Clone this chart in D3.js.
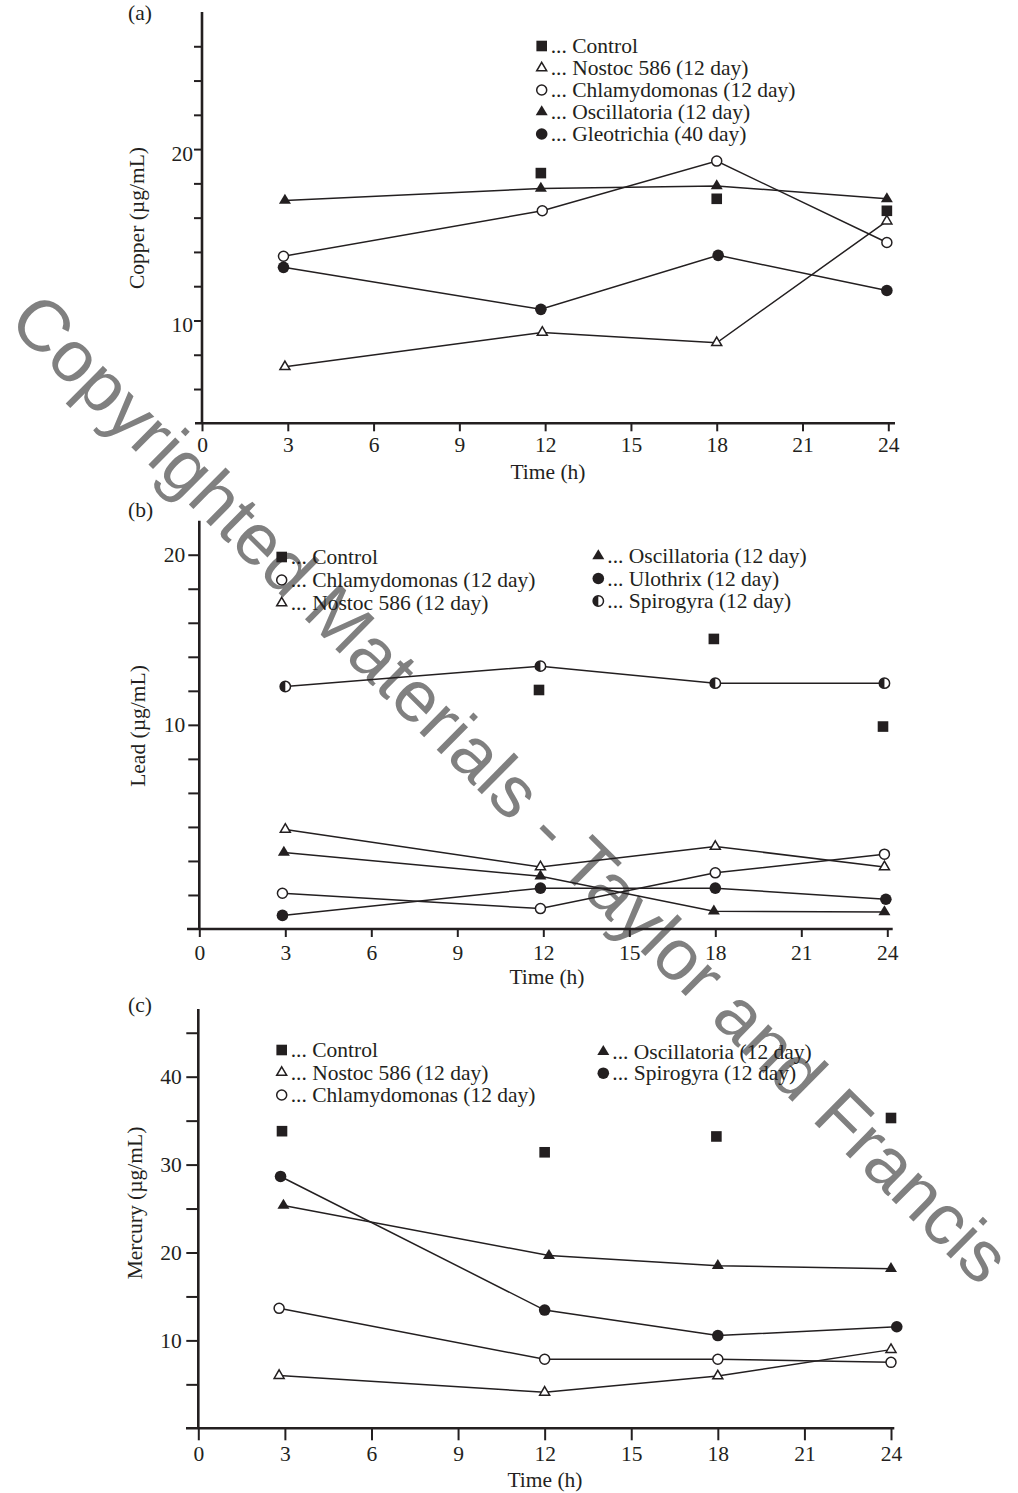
<!DOCTYPE html>
<html>
<head>
<meta charset="utf-8">
<script src="https://cdn.jsdelivr.net/npm/d3@7"></script>
<style>
  body { margin: 0; background: #fff; }
  svg { display: block; }
  text { font-family: "Liberation Serif", "Times New Roman", serif; fill: #231f20; }
</style>
</head>
<body>
<svg id="fig" width="1018" height="1493"></svg>
<script>
// Heavy-metal removal by algae: copper, lead and mercury left in solution over 24 h.
// Values, [time (h), µg/mL].

const hourTicks = [0, 3, 6, 9, 12, 15, 18, 21, 24];

// (a) Copper
const cuControl = [[11.85, 18.6], [18.0, 17.1], [23.95, 16.4]];
const cuNostoc  = [[2.9, 7.3], [11.9, 9.3], [18.0, 8.7], [23.95, 15.8]];
const cuChlamy  = [[2.85, 13.75], [11.9, 16.4], [18.0, 19.3], [23.95, 14.55]];
const cuOscill  = [[2.9, 17.0], [11.85, 17.7], [18.0, 17.85], [23.95, 17.1]];
const cuGleo    = [[2.85, 13.1], [11.85, 10.65], [18.05, 13.8], [23.95, 11.75]];
const cuTicks = [6, 8, 10, 12, 14, 16, 18, 20, 22, 24, 26];
const cuLabels = [10, 20];

// (b) Lead
const pbControl = [[11.85, 12.05], [17.95, 15.05], [23.85, 9.9]];
const pbSpiro   = [[3.0, 12.25], [11.9, 13.45], [18.0, 12.45], [23.9, 12.45]];
const pbNostoc  = [[3.0, 3.85], [11.9, 1.65], [18.0, 2.85], [23.9, 1.65]];
const pbOscill  = [[2.95, 2.5], [11.9, 1.1], [17.95, -0.95], [23.9, -1.0]];
const pbChlamy  = [[2.9, 0.1], [11.9, -0.8], [18.0, 1.3], [23.9, 2.4]];
const pbUlo     = [[2.9, -1.2], [11.9, 0.4], [18.0, 0.4], [23.95, -0.25]];
const pbTicks = [0, 2, 4, 6, 8, 10, 12, 14, 16, 18, 20];
const pbLabels = [10, 20];

// (c) Mercury
const hgControl = [[2.9, 33.8], [12.0, 31.4], [17.95, 33.2], [24.0, 35.3]];
const hgSpiro   = [[2.85, 28.65], [12.0, 13.45], [18.0, 10.55], [24.2, 11.55]];
const hgOscill  = [[2.95, 25.35], [12.15, 19.65], [18.0, 18.5], [24.0, 18.15]];
const hgChlamy  = [[2.8, 13.65], [12.0, 7.85], [18.0, 7.85], [24.0, 7.5]];
const hgNostoc  = [[2.8, 6.0], [12.0, 4.1], [18.0, 5.95], [24.0, 8.95]];
const hgTicks = [5, 10, 15, 20, 25, 30, 35, 40, 45];
const hgLabels = [10, 20, 30, 40];

const ink = "#231f20";
const fs = "21.5px";
const svg = d3.select("#fig");
svg.append("rect").attr("width", 1018).attr("height", 1493).attr("fill", "#fff");

// watermark sits under the chart
svg.append("text")
  .attr("transform", "translate(511,788) rotate(44.7)")
  .attr("text-anchor", "middle").attr("dominant-baseline", "central")
  .style("font-family", '"Liberation Sans", Arial, sans-serif')
  .style("font-size", "72px").style("fill", "#808080")
  .attr("textLength", 1370).attr("lengthAdjust", "spacingAndGlyphs")
  .text("Copyrighted Materials - Taylor and Francis");

function tri(w, h) {
  return `M0,${-h * 2 / 3}L${w / 2},${h / 3}L${-w / 2},${h / 3}Z`;
}

// one marker glyph at (cx, cy)
function mark(g, kind, cx, cy) {
  const m = g.append("g").attr("transform", `translate(${cx},${cy})`);
  if (kind === "square") {
    m.append("rect").attr("x", -5.3).attr("y", -5.3).attr("width", 10.6).attr("height", 10.6).attr("fill", ink);
  } else if (kind === "triFilled") {
    m.append("path").attr("d", tri(12, 10)).attr("fill", ink);
  } else if (kind === "triOpen") {
    m.append("path").attr("d", tri(10, 8.6)).attr("fill", "#fff").attr("stroke", ink).attr("stroke-width", 1.5);
  } else if (kind === "circFilled") {
    m.append("circle").attr("r", 5.8).attr("fill", ink);
  } else if (kind === "circOpen") {
    m.append("circle").attr("r", 5).attr("fill", "#fff").attr("stroke", ink).attr("stroke-width", 1.5);
  } else if (kind === "circHalf") {
    m.append("circle").attr("r", 5.2).attr("fill", "#fff").attr("stroke", ink).attr("stroke-width", 1.5);
    m.append("path").attr("d", "M0,-5.2A5.2,5.2 0 0 0 0,5.2Z").attr("fill", ink);
  }
}

function panel(p) {
  const g = svg.append("g");
  const x = d3.scaleLinear().domain([0, 24]).range([p.x0, p.x1]);
  const y = d3.scaleLinear().domain(p.yDomain).range([p.yBottom, p.yTop]);

  // x axis
  const gx = g.append("g").attr("transform", `translate(0,${p.yBottom})`)
    .call(d3.axisBottom(x).tickValues(hourTicks).tickSize(p.xTick).tickSizeOuter(0));
  gx.select(".domain").remove();
  gx.selectAll(".tick line").attr("stroke", ink).attr("stroke-width", 2);
  gx.selectAll(".tick text").attr("y", p.xLabelY).attr("dy", null)
    .style("font-size", fs).attr("fill", ink);
  g.append("line").attr("x1", p.xAxisFrom).attr("x2", p.xAxisTo)
    .attr("y1", p.yBottom).attr("y2", p.yBottom).attr("stroke", ink).attr("stroke-width", 2.6);

  // y axis
  const gy = g.append("g").attr("transform", `translate(${p.x0},0)`)
    .call(d3.axisLeft(y).tickValues(p.yTicks).tickSize(p.yTick).tickSizeOuter(0)
      .tickFormat((d) => (p.yLabels.includes(d) ? d : "")));
  gy.select(".domain").remove();
  gy.selectAll(".tick line").attr("stroke", ink).attr("stroke-width", 2);
  gy.selectAll(".tick text").attr("x", p.yLabelX).attr("dy", p.yLabelDy)
    .style("font-size", fs).attr("fill", ink);
  g.append("line").attr("x1", p.x0).attr("x2", p.x0)
    .attr("y1", p.yTop).attr("y2", p.yBottom).attr("stroke", ink).attr("stroke-width", 2.6);

  // titles
  g.append("text").attr("x", 128).attr("y", p.tagY).style("font-size", fs).text(p.tag);
  g.append("text").attr("x", p.timeX).attr("y", p.timeY).attr("text-anchor", "middle")
    .style("font-size", fs).text("Time (h)");
  g.append("text").attr("transform", `translate(${p.titleX},${p.titleY}) rotate(-90)`)
    .attr("text-anchor", "middle").style("font-size", fs).text(p.title);

  // lines then markers
  const line = d3.line().x((d) => x(d[0])).y((d) => y(d[1]));
  p.series.filter((s) => s.line).forEach((s) => {
    g.append("path").datum(s.pts).attr("d", line)
      .attr("fill", "none").attr("stroke", ink).attr("stroke-width", 1.5);
  });
  p.series.forEach((s) => s.pts.forEach((d) => mark(g, s.mark, x(d[0]), y(d[1]))));

  // legend columns
  p.legend.forEach((col) => {
    col.items.forEach((s, i) => {
      const ly = col.y0 + i * col.step;
      mark(g, s.mark, col.x, ly);
      g.append("text").attr("x", col.x + 9).attr("y", ly + 7)
        .style("font-size", fs).text("... " + s.name);
    });
  });
}

// --- (a) ---
const A = {
  control: { name: "Control", mark: "square", line: false, pts: cuControl },
  nostoc: { name: "Nostoc 586 (12 day)", mark: "triOpen", line: true, pts: cuNostoc },
  chlamy: { name: "Chlamydomonas (12 day)", mark: "circOpen", line: true, pts: cuChlamy },
  oscill: { name: "Oscillatoria (12 day)", mark: "triFilled", line: true, pts: cuOscill },
  gleo: { name: "Gleotrichia (40 day)", mark: "circFilled", line: true, pts: cuGleo },
};
panel({
  tag: "(a)", tagY: 20, title: "Copper (\u00b5g/mL)", titleX: 144, titleY: 218,
  x0: 202, x1: 888.3, yTop: 12, yBottom: 423.3, yDomain: [4, 28],
  xAxisFrom: 195, xAxisTo: 895, xTick: 8, xLabelY: 29, timeX: 548, timeY: 479,
  yTicks: cuTicks, yLabels: cuLabels, yTick: 8, yLabelX: -9, yLabelDy: 11,
  series: [A.nostoc, A.chlamy, A.oscill, A.gleo, A.control],
  legend: [{ x: 541.7, y0: 46, step: 22, items: [A.control, A.nostoc, A.chlamy, A.oscill, A.gleo] }],
});

// --- (b) ---
const B = {
  control: { name: "Control", mark: "square", line: false, pts: pbControl },
  spiro: { name: "Spirogyra (12 day)", mark: "circHalf", line: true, pts: pbSpiro },
  nostoc: { name: "Nostoc 586 (12 day)", mark: "triOpen", line: true, pts: pbNostoc },
  oscill: { name: "Oscillatoria (12 day)", mark: "triFilled", line: true, pts: pbOscill },
  chlamy: { name: "Chlamydomonas (12 day)", mark: "circOpen", line: true, pts: pbChlamy },
  ulo: { name: "Ulothrix (12 day)", mark: "circFilled", line: true, pts: pbUlo },
};
panel({
  tag: "(b)", tagY: 517, title: "Lead (\u00b5g/mL)", titleX: 145, titleY: 726,
  x0: 199.3, x1: 887.3, yTop: 520.7, yBottom: 929, yDomain: [-2, 22],
  xAxisFrom: 187, xAxisTo: 892.7, xTick: 8, xLabelY: 31, timeX: 547, timeY: 984,
  yTicks: pbTicks, yLabels: pbLabels, yTick: 11, yLabelX: -14, yLabelDy: 7,
  series: [B.spiro, B.nostoc, B.oscill, B.chlamy, B.ulo, B.control],
  legend: [
    { x: 281.7, y0: 557, step: 23, items: [B.control, B.chlamy, B.nostoc] },
    { x: 598.3, y0: 556, step: 22.5, items: [B.oscill, B.ulo, B.spiro] },
  ],
});

// --- (c) ---
const C = {
  control: { name: "Control", mark: "square", line: false, pts: hgControl },
  spiro: { name: "Spirogyra (12 day)", mark: "circFilled", line: true, pts: hgSpiro },
  oscill: { name: "Oscillatoria (12 day)", mark: "triFilled", line: true, pts: hgOscill },
  chlamy: { name: "Chlamydomonas (12 day)", mark: "circOpen", line: true, pts: hgChlamy },
  nostoc: { name: "Nostoc 586 (12 day)", mark: "triOpen", line: true, pts: hgNostoc },
};
panel({
  tag: "(c)", tagY: 1012, title: "Mercury (\u00b5g/mL)", titleX: 142, titleY: 1203,
  x0: 198.3, x1: 891, yTop: 1009, yBottom: 1428.3, yDomain: [0, 47.7],
  xAxisFrom: 186, xAxisTo: 894.3, xTick: 12, xLabelY: 33, timeX: 545, timeY: 1487,
  yTicks: hgTicks, yLabels: hgLabels, yTick: 12, yLabelX: -16.5, yLabelDy: 7,
  series: [C.spiro, C.oscill, C.chlamy, C.nostoc, C.control],
  legend: [
    { x: 281.7, y0: 1050, step: 22.5, items: [C.control, C.nostoc, C.chlamy] },
    { x: 603.3, y0: 1051.7, step: 21.5, items: [C.oscill, C.spiro] },
  ],
});
</script>
</body>
</html>
